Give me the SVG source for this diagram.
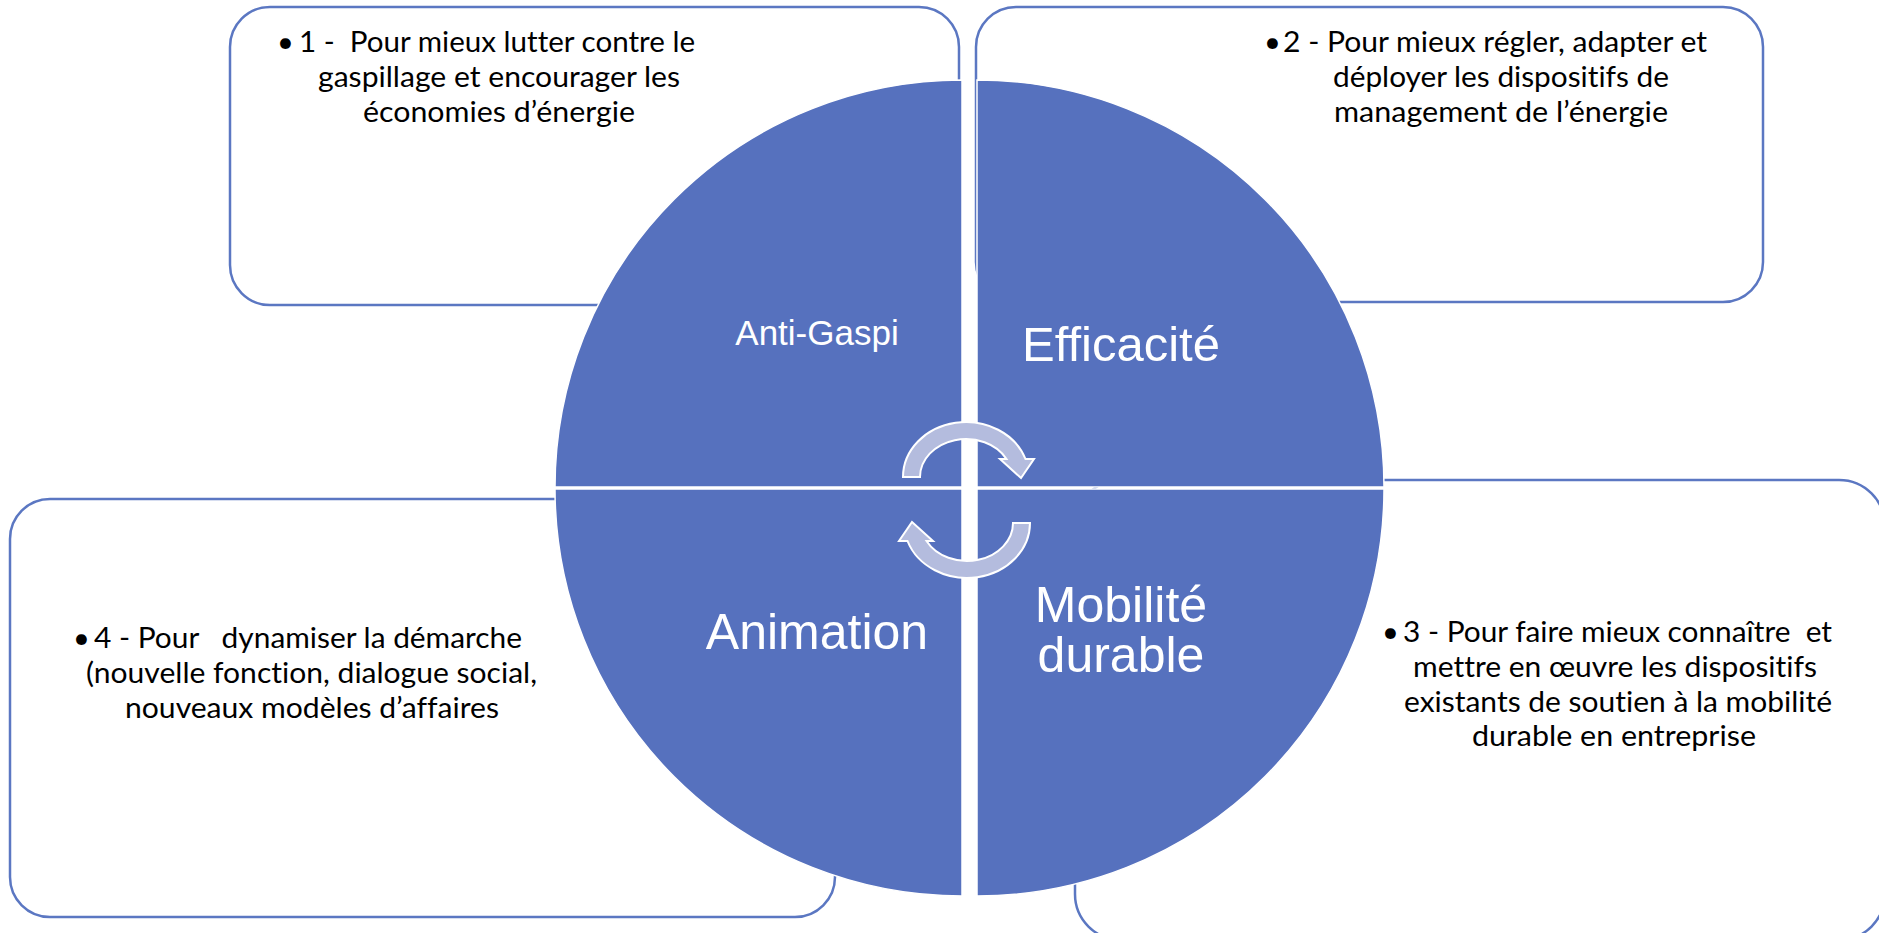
<svg xmlns="http://www.w3.org/2000/svg" width="1879" height="933" viewBox="0 0 1879 933">
<style>
.box{fill:#ffffff;stroke:#5B77C2;stroke-width:2.5}
.quad{fill:#5671BE;stroke:#ffffff;stroke-width:1.5}
.body{font-family:Lato,"Liberation Sans",sans-serif;font-size:29px;fill:#000000;font-variant-ligatures:none;font-feature-settings:"liga" 0,"clig" 0}
.lab{font-family:"Liberation Sans",Arial,sans-serif;fill:#ffffff}
.cyc{fill:#B4BCDE;stroke:#ffffff;stroke-width:2}
</style>
<rect width="1879" height="933" fill="#ffffff"/>
<g id="box1">
<rect class="box" x="230" y="7" width="729" height="298" rx="40"/>
<text class="body" x="277" y="52">•</text>
<text class="body" x="299" y="52" textLength="396" lengthAdjust="spacingAndGlyphs" xml:space="preserve">1 -  Pour mieux lutter contre le</text>
<text class="body" x="318" y="87" textLength="362" lengthAdjust="spacingAndGlyphs">gaspillage et encourager les</text>
<text class="body" x="363" y="122" textLength="272" lengthAdjust="spacingAndGlyphs">économies d’énergie</text>
</g>
<g id="box2">
<rect class="box" x="976" y="7" width="787" height="295" rx="40"/>
<text class="body" x="1264" y="52">•</text>
<text class="body" x="1283" y="52" textLength="424" lengthAdjust="spacingAndGlyphs">2 - Pour mieux régler, adapter et</text>
<text class="body" x="1333" y="87" textLength="336" lengthAdjust="spacingAndGlyphs">déployer les dispositifs de</text>
<text class="body" x="1334" y="122" textLength="334" lengthAdjust="spacingAndGlyphs">management de l’énergie</text>
</g>
<g id="box3">
<rect class="box" x="1075" y="480" width="810" height="460" rx="46"/>
<text class="body" x="1382" y="642">•</text>
<text class="body" x="1403" y="642" textLength="429" lengthAdjust="spacingAndGlyphs" xml:space="preserve">3 - Pour faire mieux connaître  et</text>
<text class="body" x="1413" y="677" textLength="404" lengthAdjust="spacingAndGlyphs">mettre en œuvre les dispositifs</text>
<text class="body" x="1404" y="712" textLength="428" lengthAdjust="spacingAndGlyphs">existants de soutien à la mobilité</text>
<text class="body" x="1472" y="746" textLength="284" lengthAdjust="spacingAndGlyphs">durable en entreprise</text>
</g>
<g id="box4">
<rect class="box" x="10" y="499" width="825" height="418" rx="40"/>
<text class="body" x="73" y="648">•</text>
<text class="body" x="94" y="648" textLength="428" lengthAdjust="spacingAndGlyphs" xml:space="preserve">4 - Pour   dynamiser la démarche</text>
<text class="body" x="86" y="683" textLength="451" lengthAdjust="spacingAndGlyphs">(nouvelle fonction, dialogue social,</text>
<text class="body" x="125" y="718" textLength="374" lengthAdjust="spacingAndGlyphs">nouveaux modèles d’affaires</text>
</g>
<g id="q-antigaspi">
<path class="quad" d="M962,487 L555,487 A407,407 0 0 1 962,80 Z"/>
<text class="lab" x="817" y="345" font-size="35" text-anchor="middle">Anti-Gaspi</text>
</g>
<g id="q-efficacite">
<path class="quad" d="M977,487 L977,80 A407,407 0 0 1 1384,487 Z"/>
<text class="lab" x="1121" y="361" font-size="49" text-anchor="middle">Efficacité</text>
</g>
<g id="q-mobilite">
<path class="quad" d="M977,489 L1384,489 A407,407 0 0 1 977,896 Z"/>
<text class="lab" x="1121" y="622" font-size="50" text-anchor="middle">Mobilité</text>
<text class="lab" x="1121" y="672" font-size="50" text-anchor="middle">durable</text>
</g>
<g id="q-animation">
<path class="quad" d="M962,489 L962,896 A407,407 0 0 1 555,489 Z"/>
<text class="lab" x="817" y="649" font-size="50" text-anchor="middle">Animation</text>
</g>
<g id="connectors">
<path id="cyc-top" class="cyc" d="M903,477 A63,55 0 0 1 1025.5,459 L1034,459 L1021,478 L1000,459 L1006.5,459 A46,38 0 0 0 920,477 Z"/>
<path id="cyc-bottom" class="cyc" transform="rotate(180 966.5 500)" d="M903,477 A63,55 0 0 1 1025.5,459 L1034,459 L1021,478 L1000,459 L1006.5,459 A46,38 0 0 0 920,477 Z"/>
</g>
</svg>
